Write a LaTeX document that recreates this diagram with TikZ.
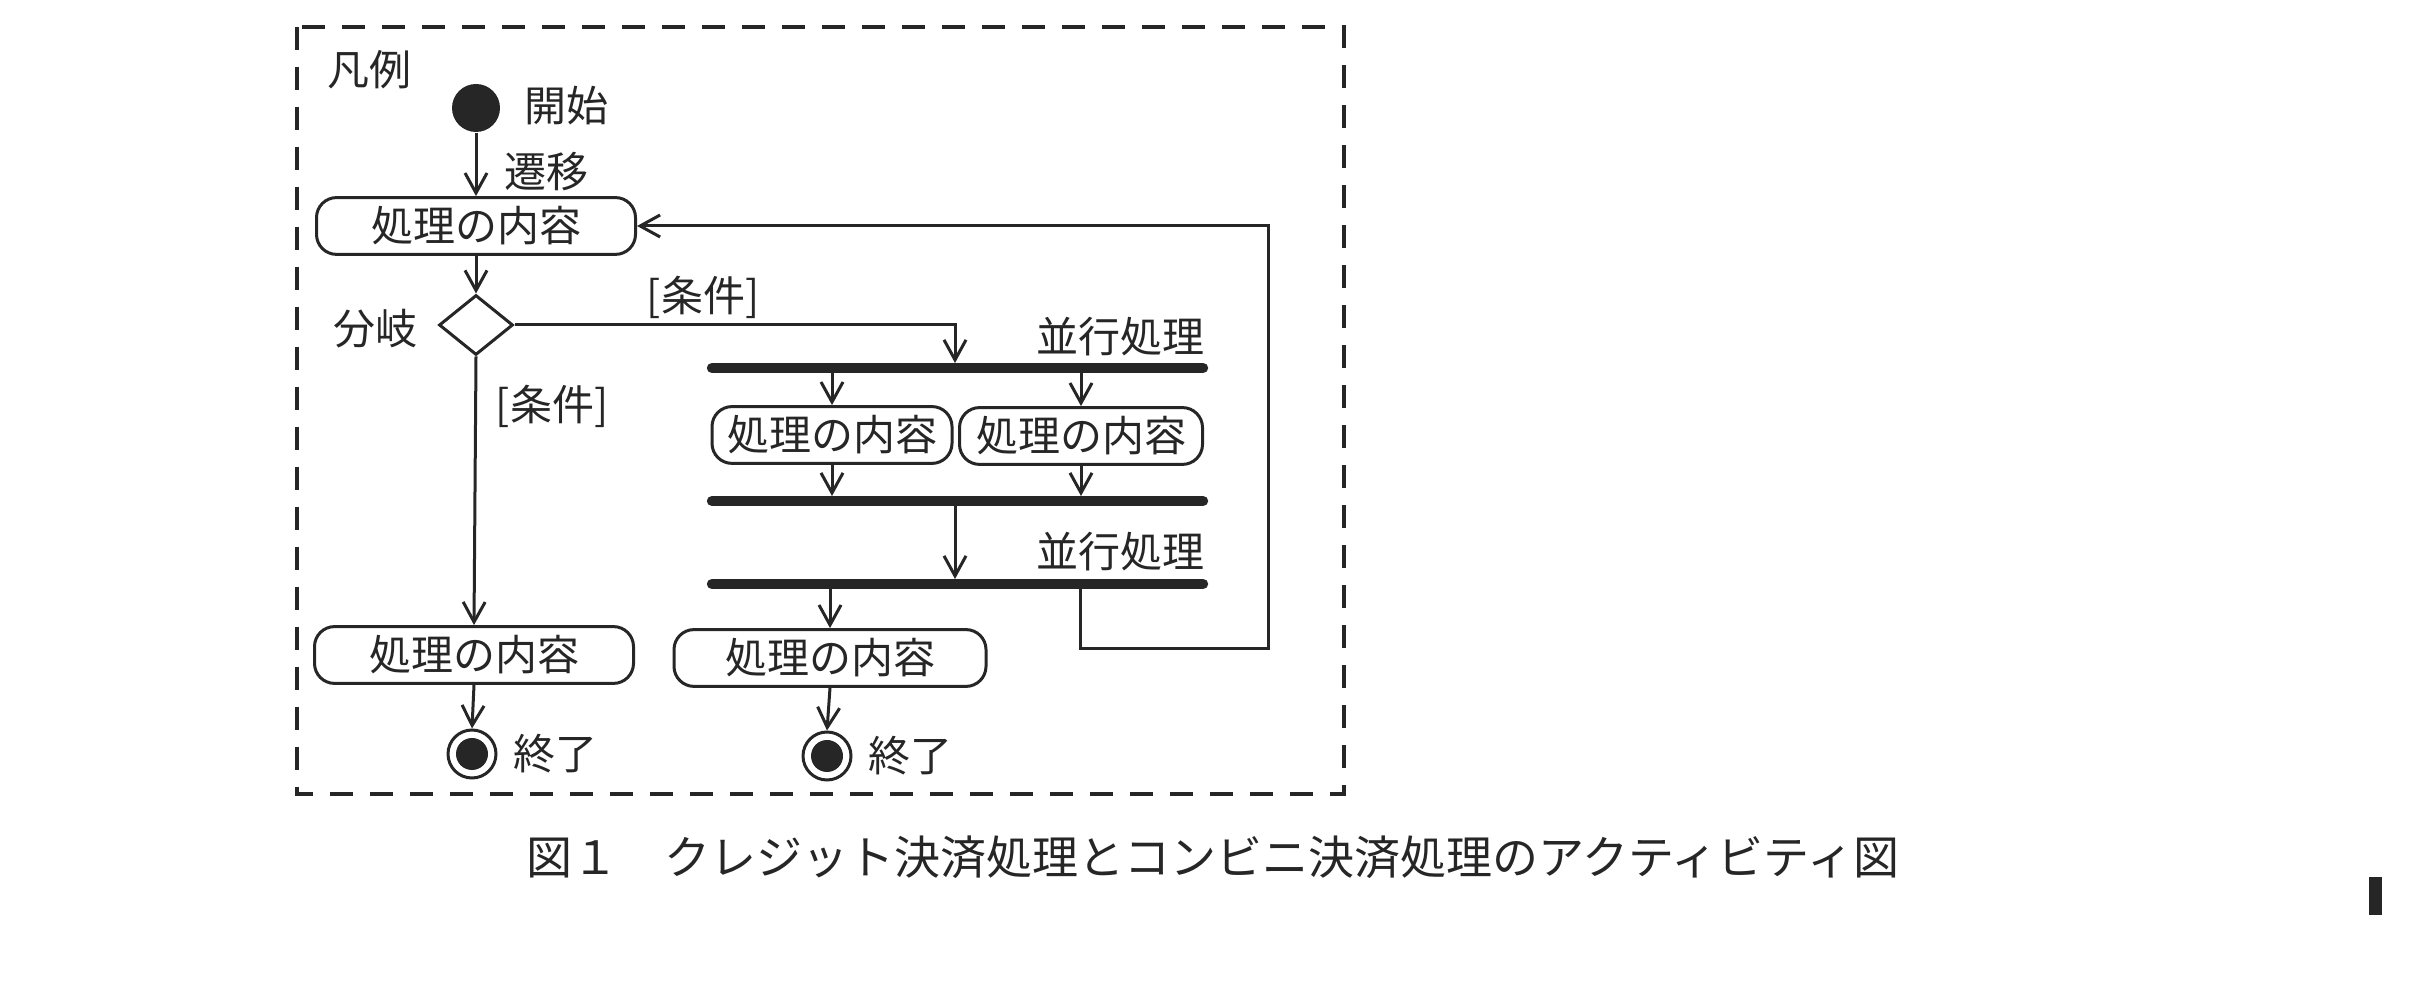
\documentclass[tikz,border=0pt]{standalone}
\usepackage{fontspec}
\newfontfamily\jp{Noto Sans CJK JP}
\usetikzlibrary{arrows.meta,shapes.geometric}
\begin{document}
\begin{tikzpicture}[x=0.25pt,y=-0.25pt,
  ink/.style={black!85},
  txt/.style={font=\jp\fontsize{10.5}{12}\selectfont, inner sep=0pt, text=black!85},
  proc/.style={draw=black!85, line width=0.75pt, rounded corners=5pt, minimum height=14.2pt, inner sep=0pt, font=\jp\fontsize{10.5}{12}\selectfont, text=black!85},
  bar/.style={draw=black!85, line width=2.6pt, line cap=round},
  arr/.style={draw=black!85, line width=0.75pt, -{Straight Barb[length=5pt,width=5.5pt,line width=0.75pt]}},
  conn/.style={draw=black!85, line width=0.75pt},
  endnode/.style={circle, draw=black!85, line width=0.75pt, minimum size=12pt, inner sep=0pt}
]
\useasboundingbox (0,0) rectangle (2416,981);

% legend frame
\draw[black!85, line width=1pt, dash pattern=on 5.8pt off 4.2pt] (297,27) rectangle (1344,794);
\node[txt] (legend) at (369,70) {凡例};

% start
\node[circle, fill=black!85, minimum size=12pt, inner sep=0pt] (start) at (476,108) {};
\node[txt, anchor=west] (startlbl) at (524,106) {開始};
\node[txt] (translbl) at (546,172) {遷移};

% first action
\node[proc, minimum width=79.75pt] (box1) at (476,226) {処理の内容};

% decision
\node[diamond, draw=black!85, line width=0.75pt, minimum width=18.5pt, minimum height=15pt, inner sep=0pt] (dia) at (476,325) {};
\node[txt] (dialbl) at (375,329) {分岐};
\node[txt] (cond1) at (703,297) {[条件]};
\node[txt] (cond2) at (552,406) {[条件]};

% left branch
\node[proc, minimum width=79.75pt] (boxL) at (474,655) {処理の内容};
\node[endnode] (end1) at (472,754) {};
\fill[black!85] (end1) circle (4pt);
\node[txt, anchor=west] (end1lbl) at (513,754) {終了};

% fork / join bars
\coordinate (b1l) at (712,368); \coordinate (b1r) at (1203,368);
\coordinate (b2l) at (712,501); \coordinate (b2r) at (1203,501);
\coordinate (b3l) at (712,584); \coordinate (b3r) at (1203,584);
\draw[bar] (b1l) -- (b1r);
\draw[bar] (b2l) -- (b2r);
\draw[bar] (b3l) -- (b3r);
\node[txt, anchor=east] (par1) at (1205,337) {並行処理};
\node[txt, anchor=east] (par2) at (1205,552) {並行処理};

% parallel actions
\node[proc, minimum width=60pt] (boxA) at (832,435) {処理の内容};
\node[proc, minimum width=60.75pt] (boxB) at (1081,436) {処理の内容};
\node[proc, minimum width=78pt] (boxC) at (830,658) {処理の内容};
\node[endnode] (end2) at (827,756) {};
\fill[black!85] (end2) circle (4pt);
\node[txt, anchor=west] (end2lbl) at (868,756) {終了};

% anchor points on bars
\coordinate (b1in) at (955,363);
\coordinate (b1A) at (832,373);
\coordinate (b1B) at (1081,373);
\coordinate (b2A) at (832,496);
\coordinate (b2B) at (1081,496);
\coordinate (b2out) at (955,506);
\coordinate (b3in) at (955,579);
\coordinate (b3C) at (830,589);
\coordinate (b3loop) at (1080,589);
\coordinate (loopc) at (1268,649);

% connectors
\draw[arr] (start) -- (box1.north);
\draw[arr] (box1.south) -- (dia.north);
\draw[arr] (dia.south) -- (boxL.north);
\draw[arr] (boxL.south) -- (end1.north);
\draw[arr] (dia.east) -| (b1in);
\draw[arr] (b1A) -- (boxA.north);
\draw[arr] (b1B) -- (boxB.north);
\draw[arr] (boxA.south) -- (b2A);
\draw[arr] (boxB.south) -- (b2B);
\draw[arr] (b2out) -- (b3in);
\draw[arr] (b3C) -- (boxC.north);
\draw[arr] (boxC.south) -- (end2.north);
\draw[arr] (b3loop) |- (loopc) |- (box1.east);

% caption
\node[font=\jp\fontsize{11.5}{13}\selectfont, inner sep=0pt, text=black!85] (caption) at (1213,857) {図１　クレジット決済処理とコンビニ決済処理のアクティビティ図};

% mark at right edge
\fill[black!85] (2369,877) rectangle (2382,915);
\end{tikzpicture}
\end{document}
